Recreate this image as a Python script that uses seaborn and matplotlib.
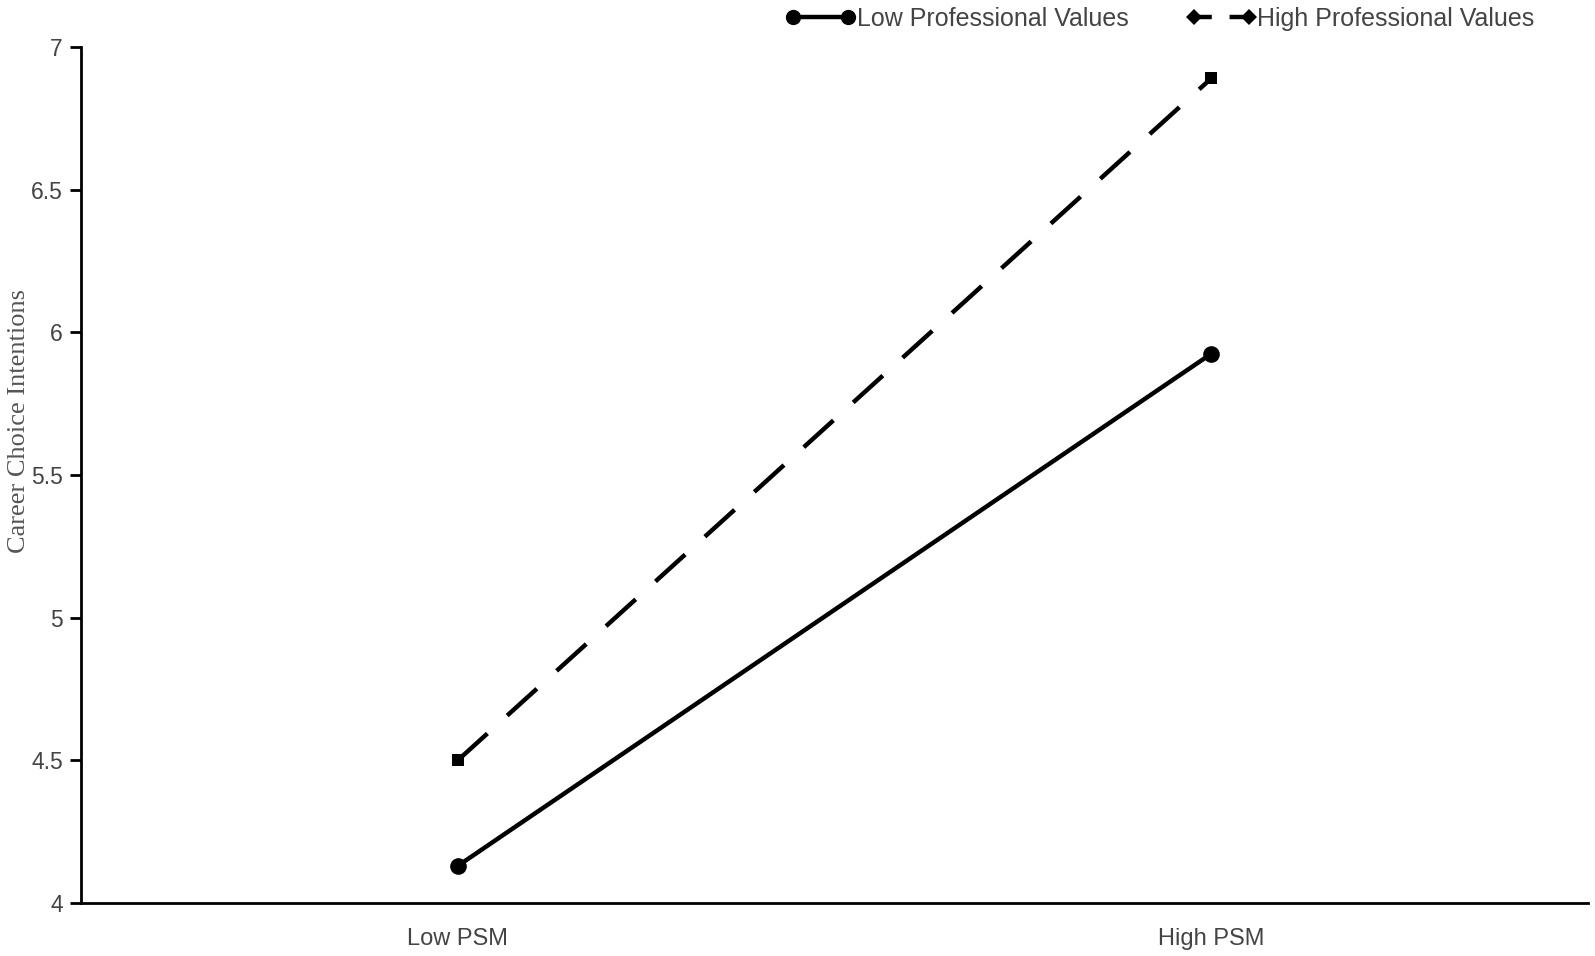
import matplotlib
matplotlib.use("Agg")
import matplotlib.pyplot as plt
import seaborn as sns
import pandas as pd
from matplotlib.lines import Line2D

sns.set_theme(style="white")
plt.rcParams['font.family'] = ['Liberation Sans', 'DejaVu Sans']

categories = ["Low PSM", "High PSM"]
low_pv = [4.13, 5.925]
high_pv = [4.50, 6.89]
series_names = ["Low Professional Values", "High Professional Values"]
y_ticks = [4, 4.5, 5, 5.5, 6, 6.5, 7]
y_tick_labels = ["4", "4.5", "5", "5.5", "6", "6.5", "7"]

df_low = pd.DataFrame({"PSM": categories, "value": low_pv, "group": series_names[0]})
df_high = pd.DataFrame({"PSM": categories, "value": high_pv, "group": series_names[1]})

fig = plt.figure(figsize=(15.95, 9.56), dpi=100)
ax = fig.add_axes([81/1595, 1-903/956, (1588-81)/1595, (903-47)/956])

sns.lineplot(data=df_low, x="PSM", y="value", ax=ax, color="black", linewidth=3.2,
             marker="o", markersize=12, markeredgewidth=0, legend=False)
sns.lineplot(data=df_high, x="PSM", y="value", ax=ax, color="black", linewidth=3.2,
             marker="s", markersize=8, markeredgewidth=0, legend=False,
             dashes=False)
ax.lines[1].set_dashes([9, 6])

ax.set_xlim(-0.5, 1.5)
ax.set_ylim(4, 7)
ax.set_yticks(y_ticks)
ax.set_yticklabels(y_tick_labels)
ax.set_xlabel("")
ax.set_ylabel("Career Choice Intentions", family=["Liberation Serif"], fontsize=19,
              color="#555555")
ax.yaxis.set_label_coords(-0.034, 0.563)

for s in ["top", "right"]:
    ax.spines[s].set_visible(False)
for s in ["left", "bottom"]:
    ax.spines[s].set_color("black")
    ax.spines[s].set_linewidth(2)

ax.tick_params(axis="y", which="major", left=True, length=8, width=2, color="black",
               labelsize=16.5, labelcolor="#444444", pad=5)
ax.tick_params(axis="x", bottom=False, labelsize=17, labelcolor="#444444", pad=12)
ax.grid(False)

handles = [
    Line2D([0], [0], color="black", lw=3.2, marker="o", markersize=11, markeredgewidth=0),
    Line2D([0], [0], color="black", lw=3.2, marker="D", markersize=8, markeredgewidth=0,
           dashes=[4, 4]),
]
fig.legend(handles, series_names, loc="center", bbox_to_anchor=(1160/1595, 1-19/956),
           ncol=2, frameon=False, fontsize=18, handlelength=2.8, handletextpad=0.05,
           columnspacing=2.3, numpoints=2, labelcolor="#444444")

fig.savefig("out.png", dpi=100)
